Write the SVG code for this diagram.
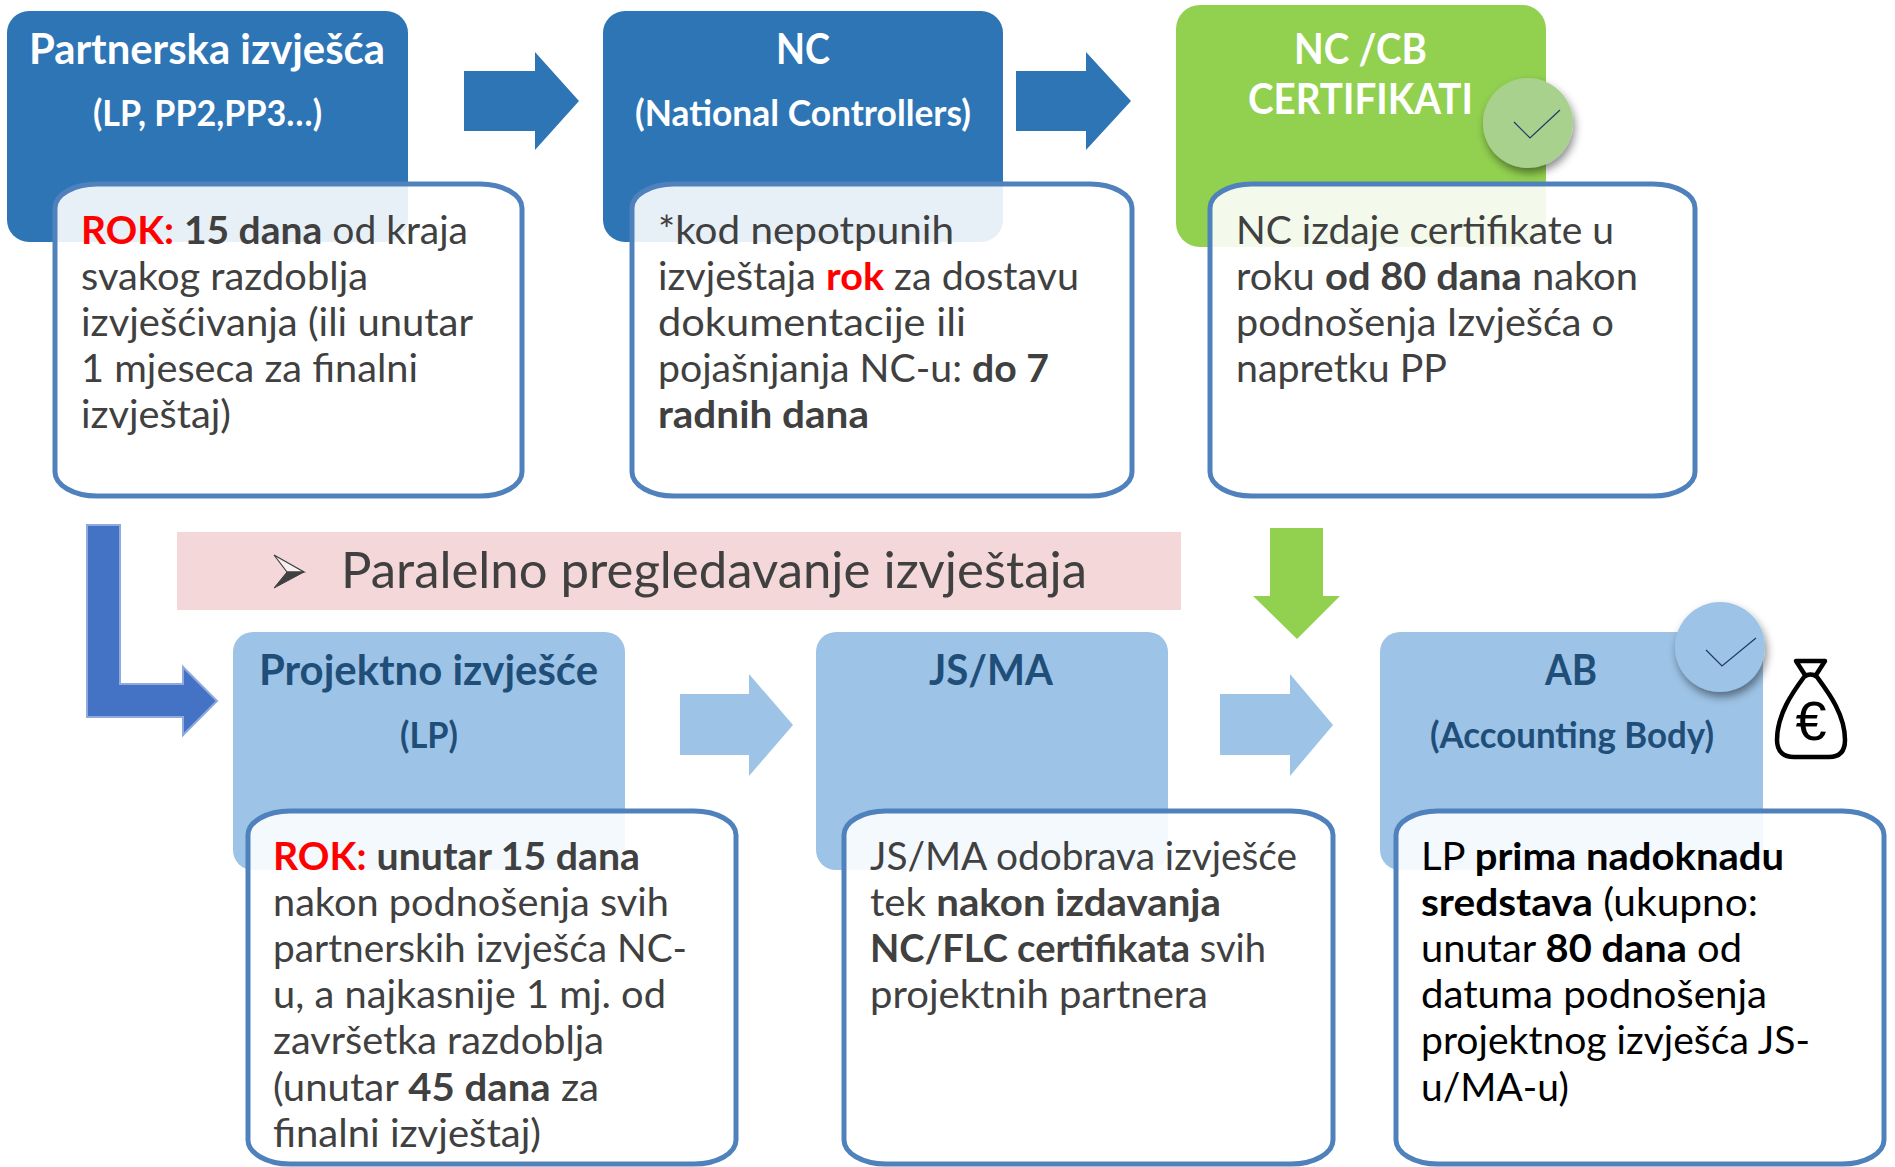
<svg xmlns="http://www.w3.org/2000/svg" width="1895" height="1167" viewBox="0 0 1895 1167">
<style>
text{font-family:"Lato","Liberation Sans",sans-serif}
.head{fill:#2e75b6}.green{fill:#92d050}.light{fill:#9dc3e6}
.note{fill:#fff;fill-opacity:.89;stroke:#4f81bd;stroke-width:5}
.t{font-size:38px;fill:#404040}
.k{fill:#000}
.w{font-size:42px;font-weight:700;fill:#fff}
.ws{font-size:36px;font-weight:700;fill:#fff}
.d{font-size:42px;font-weight:700;fill:#1f4e79}
.ds{font-size:36px;font-weight:700;fill:#1f4e79}
.b{font-weight:700}.r{fill:#f00;font-weight:700}
.tick{fill:none;stroke:#1f3864;stroke-width:1.2}
</style>
<defs><filter id="sh" x="-30%" y="-30%" width="170%" height="170%"><feDropShadow dx="2" dy="5" stdDeviation="4" flood-color="#000" flood-opacity=".45"/></filter></defs>

<g id="n1">
<rect class="head" x="7" y="11" width="401" height="231" rx="22"/>
<text class="w" x="29" y="64" textLength="356" lengthAdjust="spacingAndGlyphs">Partnerska izvješća</text>
<text class="ws" x="93" y="126" textLength="229" lengthAdjust="spacingAndGlyphs">(LP, PP2,PP3…)</text>
<rect class="note" x="55" y="184" width="467" height="312" rx="42" ry="24"/>
<text class="t" x="81" y="244" textLength="387" lengthAdjust="spacingAndGlyphs"><tspan class="r">ROK:</tspan> <tspan class="b">15 dana</tspan> od kraja</text>
<text class="t" x="81" y="290" textLength="287" lengthAdjust="spacingAndGlyphs">svakog razdoblja</text>
<text class="t" x="81" y="336" textLength="392" lengthAdjust="spacingAndGlyphs">izvješćivanja (ili unutar</text>
<text class="t" x="81" y="382" textLength="337" lengthAdjust="spacingAndGlyphs">1 mjeseca za finalni</text>
<text class="t" x="81" y="428" textLength="150" lengthAdjust="spacingAndGlyphs">izvještaj)</text>
</g>

<g id="n2">
<rect class="head" x="603" y="11" width="400" height="231" rx="22"/>
<text class="w" x="776" y="64" textLength="54" lengthAdjust="spacingAndGlyphs">NC</text>
<text class="ws" x="635" y="126" textLength="336" lengthAdjust="spacingAndGlyphs">(National Controllers)</text>
<rect class="note" x="632" y="184" width="500" height="312" rx="42" ry="24"/>
<text class="t" x="658" y="244" textLength="296" lengthAdjust="spacingAndGlyphs">*kod nepotpunih</text>
<text class="t" x="658" y="290" textLength="421" lengthAdjust="spacingAndGlyphs">izvještaja <tspan class="r">rok</tspan> za dostavu</text>
<text class="t" x="658" y="336" textLength="308" lengthAdjust="spacingAndGlyphs">dokumentacije ili</text>
<text class="t" x="658" y="382" textLength="391" lengthAdjust="spacingAndGlyphs">pojašnjanja NC-u: <tspan class="b">do 7</tspan></text>
<text class="t b" x="658" y="428" textLength="211" lengthAdjust="spacingAndGlyphs">radnih dana</text>
</g>

<g id="n3">
<rect class="green" x="1176" y="5" width="370" height="242" rx="24"/>
<text class="w" x="1294" y="64" textLength="133" lengthAdjust="spacingAndGlyphs">NC /CB</text>
<text class="w" x="1248" y="114" textLength="225" lengthAdjust="spacingAndGlyphs">CERTIFIKATI</text>
<rect class="note" x="1210" y="184" width="485" height="312" rx="42" ry="24"/>
<text class="t" x="1236" y="244" textLength="378" lengthAdjust="spacingAndGlyphs">NC izdaje certifikate u</text>
<text class="t" x="1236" y="290" textLength="402" lengthAdjust="spacingAndGlyphs">roku <tspan class="b">od 80 dana</tspan> nakon</text>
<text class="t" x="1236" y="336" textLength="378" lengthAdjust="spacingAndGlyphs">podnošenja Izvješća o</text>
<text class="t" x="1236" y="382" textLength="211" lengthAdjust="spacingAndGlyphs">napretku PP</text>
<ellipse cx="1528" cy="123" rx="45" ry="45" fill="#a9d18e" filter="url(#sh)"/>
<path class="tick" d="M1514 122L1530 138L1560 110"/>
</g>

<g id="n4">
<rect id="parallel" x="177" y="532" width="1004" height="78" fill="#f4d7d8"/>
<path d="M274 555L304 572L287 572Z" fill="#f8f0f0" stroke="#404040" stroke-width="1.2"/>
<path d="M274 588L304 572L287 572Z" fill="#404040" stroke="#404040" stroke-width="1"/>
<text x="341" y="588" font-size="50" fill="#404040" textLength="746" lengthAdjust="spacingAndGlyphs">Paralelno pregledavanje izvještaja</text>
</g>

<g id="n5">
<rect class="light" x="233" y="632" width="392" height="238" rx="20"/>
<text class="d" x="259" y="685" textLength="339" lengthAdjust="spacingAndGlyphs">Projektno izvješće</text>
<text class="ds" x="400" y="748" textLength="58" lengthAdjust="spacingAndGlyphs">(LP)</text>
<rect class="note" x="248" y="811" width="488" height="353" rx="42" ry="24"/>
<text class="t" x="273" y="870" textLength="367" lengthAdjust="spacingAndGlyphs"><tspan class="r">ROK:</tspan> <tspan class="b">unutar 15 dana</tspan></text>
<text class="t" x="273" y="916" textLength="396" lengthAdjust="spacingAndGlyphs">nakon podnošenja svih</text>
<text class="t" x="273" y="962" textLength="414" lengthAdjust="spacingAndGlyphs">partnerskih izvješća NC-</text>
<text class="t" x="273" y="1008" textLength="393" lengthAdjust="spacingAndGlyphs">u, a najkasnije 1 mj. od</text>
<text class="t" x="273" y="1054" textLength="331" lengthAdjust="spacingAndGlyphs">završetka razdoblja</text>
<text class="t" x="273" y="1101" textLength="326" lengthAdjust="spacingAndGlyphs">(unutar <tspan class="b">45 dana</tspan> za</text>
<text class="t" x="273" y="1147" textLength="268" lengthAdjust="spacingAndGlyphs">finalni izvještaj)</text>
</g>

<g id="n6">
<rect class="light" x="816" y="632" width="352" height="238" rx="20"/>
<text class="d" x="929" y="685" textLength="124" lengthAdjust="spacingAndGlyphs">JS/MA</text>
<rect class="note" x="844" y="811" width="489" height="353" rx="42" ry="24"/>
<text class="t" x="870" y="870" textLength="427" lengthAdjust="spacingAndGlyphs">JS/MA odobrava izvješće</text>
<text class="t" x="870" y="916" textLength="351" lengthAdjust="spacingAndGlyphs">tek <tspan class="b">nakon izdavanja</tspan></text>
<text class="t" x="870" y="962" textLength="396" lengthAdjust="spacingAndGlyphs"><tspan class="b">NC/FLC certifikata</tspan> svih</text>
<text class="t" x="870" y="1008" textLength="338" lengthAdjust="spacingAndGlyphs">projektnih partnera</text>
</g>

<g id="n7">
<rect class="light" x="1380" y="632" width="383" height="238" rx="20"/>
<text class="d" x="1545" y="685" textLength="52" lengthAdjust="spacingAndGlyphs">AB</text>
<text class="ds" x="1430" y="748" textLength="284" lengthAdjust="spacingAndGlyphs">(Accounting Body)</text>
<rect class="note" x="1396" y="811" width="488" height="353" rx="42" ry="24"/>
<text class="t k" x="1421" y="870" textLength="363" lengthAdjust="spacingAndGlyphs">LP <tspan class="b">prima nadoknadu</tspan></text>
<text class="t k" x="1421" y="916" textLength="337" lengthAdjust="spacingAndGlyphs"><tspan class="b">sredstava</tspan> (ukupno:</text>
<text class="t k" x="1421" y="962" textLength="321" lengthAdjust="spacingAndGlyphs">unutar <tspan class="b">80 dana</tspan> od</text>
<text class="t k" x="1421" y="1008" textLength="346" lengthAdjust="spacingAndGlyphs">datuma podnošenja</text>
<text class="t k" x="1421" y="1054" textLength="389" lengthAdjust="spacingAndGlyphs">projektnog izvješća JS-</text>
<text class="t k" x="1421" y="1101" textLength="148" lengthAdjust="spacingAndGlyphs">u/MA-u)</text>
<ellipse cx="1720" cy="647" rx="45" ry="45" fill="#9dc3e6" filter="url(#sh)"/>
<path class="tick" d="M1706 650L1722 666L1756 638"/>
</g>

<g id="n8">
<path d="M1796 661H1825L1816 675H1805Z" fill="none" stroke="#000" stroke-width="4.5" stroke-linejoin="round"/>
<path d="M1804 677C1793 692 1777 714 1777 740C1777 752 1784 757 1794 757H1829C1839 757 1845 752 1845 740C1845 714 1828 692 1817 677C1813 674 1808 674 1804 677Z" fill="#fff" stroke="#000" stroke-width="4.5"/>
<text x="1811" y="740" font-size="56" text-anchor="middle" fill="#000" style="font-family:'Liberation Sans',sans-serif">€</text>
</g>

<g id="connectors">
<path class="head" d="M464 71H535V52L579 101L535 150V131H464Z"/>
<path class="head" d="M1016 71H1086V52L1131 101L1086 150V131H1016Z"/>
<path d="M87 525H120V684H183V667L217 701L183 735V717H87Z" fill="#4472c4" stroke="#8faadc" stroke-width="2"/>
<path class="green" d="M1270 528H1323V596H1340L1297 639L1253 596H1270Z"/>
<path class="light" d="M680 694H749V674L793 725L749 776V755H680Z"/>
<path class="light" d="M1220 694H1290V674L1333 725L1290 776V755H1220Z"/>
</g>
</svg>
